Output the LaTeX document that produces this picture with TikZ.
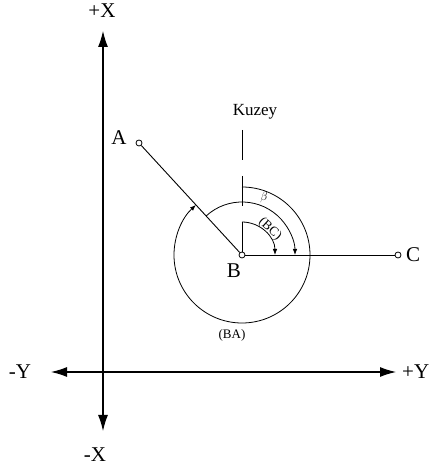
\documentclass[tikz,border=0pt]{standalone}
\usepackage{fontspec}
\setmainfont{Liberation Serif}
\usetikzlibrary{arrows.meta}

\begin{document}
\begin{tikzpicture}[
        x=1pt, y=1pt,
        axis/.style={
            line width=1.1pt,
            {Latex[length=16pt,width=10pt]}-{Latex[length=16pt,width=10pt]}
        },
        pointmark/.style={
            draw,
            circle,
            fill=white,
            inner sep=0pt,
            minimum size=6pt,
            line width=0.8pt
        },
        biglabel/.style={
            font=\fontsize{21}{24}\selectfont,
            inner sep=0pt
        },
        smalllabel/.style={
            font=\fontsize{13}{15}\selectfont,
            inner sep=0pt
        },
        anglearc/.style={
            line width=0.8pt,
            -{Latex[length=6pt,width=4.5pt]}
        },
        leg/.style={
            line width=0.9pt
        }
    ]

        \useasboundingbox (0,0) rectangle (431,474);

        % coordinate axes
        \coordinate (xpos) at (103,443);
        \coordinate (xneg) at (103,43);
        \coordinate (ypos) at (396,102);
        \coordinate (yneg) at (51,102);

        \draw[axis] (xneg) -- (xpos);
        \draw[axis] (yneg) -- (ypos);

        \node[biglabel] (xposlabel) at (102,463) {+X};
        \node[biglabel] (xneglabel) at (95,19) {-X};
        \node[biglabel] (yneglabel) at (20,102) {-Y};
        \node[biglabel, anchor=west] (yposlabel) at (402,102) {+Y};

        % points
        \node[pointmark] (A) at (139,331) {};
        \node[pointmark] (B) at (242,219) {};
        \node[pointmark] (C) at (398,219) {};

        \node[biglabel] (Alabel) at (119,336) {A};
        \node[biglabel] (Blabel) at (234,203) {B};
        \node[biglabel] (Clabel) at (413,219) {C};

        \draw[leg] (A) -- (B);
        \draw[leg] (B) -- (C);

        % north direction
        \coordinate (north) at (242,344);
        \draw[line width=0.9pt, dash pattern=on 30pt off 16pt]
            (north) -- (B);
        \node[font=\fontsize{17}{19}\selectfont, inner sep=0pt]
            (kuzey) at (255,362) {Kuzey};

        % angles
        \draw[anglearc] ([shift={(90:68pt)}]B.center)
            arc[start angle=90, end angle=-227.4, radius=68pt];
        \draw[anglearc] ([shift={(132.6:53pt)}]B.center)
            arc[start angle=132.6, end angle=0, radius=53pt];
        \draw[anglearc] ([shift={(90:33pt)}]B.center)
            arc[start angle=90, end angle=0, radius=33pt];

        \node[smalllabel] (balabel) at (232,139) {(BA)};
        \node[smalllabel] (betalabel) at (264,276) {$\beta$};
        \node[smalllabel, rotate=-42] (bclabel) at (270,245) {(BC)};

    \end{tikzpicture}
\end{document}
